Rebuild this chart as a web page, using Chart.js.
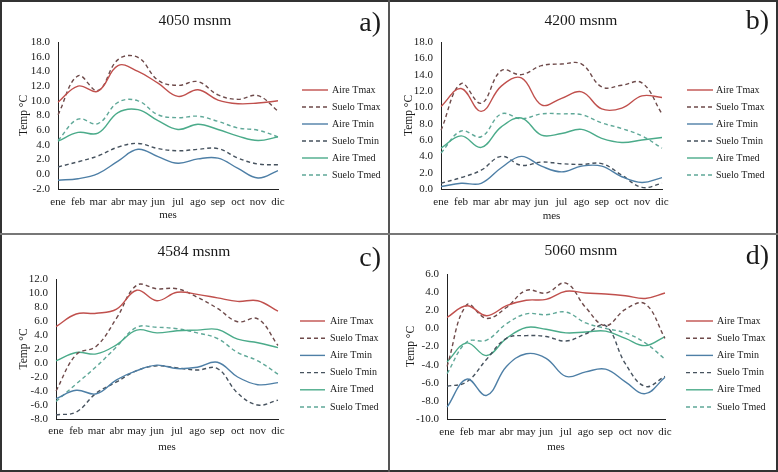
<!DOCTYPE html>
<html>
<head>
<meta charset="utf-8">
<script src="https://cdn.jsdelivr.net/npm/chart.js@4.4.1/dist/chart.umd.min.js"></script>
<style>
  body { margin: 0; background: #fff; }
  #wrap { position: relative; width: 778px; height: 472px; overflow: hidden; background: #fff; }
  canvas { position: absolute; }
  .line { position: absolute; }
</style>
</head>
<body>
<div id="wrap">
  <canvas id="pa" width="388" height="234" style="left:0;top:0"></canvas>
  <canvas id="pb" width="390" height="234" style="left:388px;top:0"></canvas>
  <canvas id="pc" width="388" height="237" style="left:0;top:235px"></canvas>
  <canvas id="pd" width="390" height="237" style="left:388px;top:235px"></canvas>
  <div class="line" style="left:0;top:0;width:778px;height:472px;box-sizing:border-box;border:2px solid #333"></div>
  <div class="line" style="left:388px;top:0;width:2px;height:472px;background:#555"></div>
  <div class="line" style="left:0;top:233px;width:778px;height:2px;background:#777"></div>
</div>
<script>
const months = ["ene", "feb", "mar", "abr", "may", "jun", "jul", "ago", "sep", "oct", "nov", "dic"];
const seriesNames = ["Aire Tmax", "Suelo Tmax", "Aire Tmin", "Suelo Tmin", "Aire Tmed", "Suelo Tmed"];

// a) 4050 msnm
const aAireTmax  = [9.8, 12.0, 11.3, 14.8, 14.0, 12.4, 10.6, 11.5, 10.1, 9.6, 9.7, 10.0];
const aSueloTmax = [8.1, 13.4, 11.4, 15.6, 15.9, 12.8, 12.1, 12.6, 10.8, 10.2, 10.7, 8.6];
const aAireTmin  = [-0.8, -0.6, 0.1, 1.8, 3.4, 2.4, 1.5, 2.1, 2.2, 0.8, -0.5, 0.5];
const aSueloTmin = [1.0, 1.7, 2.5, 3.7, 4.2, 3.5, 3.2, 3.4, 3.5, 2.2, 1.4, 1.3];
const aAireTmed  = [4.5, 5.7, 5.6, 8.4, 8.8, 7.3, 6.1, 6.8, 6.1, 5.2, 4.6, 5.1];
const aSueloTmed = [4.6, 7.5, 6.9, 9.8, 10.0, 8.1, 7.7, 7.9, 7.2, 6.3, 6.0, 5.1];

// b) 4200 msnm
const bAireTmax  = [10.1, 12.3, 9.5, 12.6, 13.6, 10.3, 11.1, 11.9, 9.8, 9.9, 11.4, 11.2];
const bSueloTmax = [7.2, 12.9, 10.5, 14.5, 14.0, 15.1, 15.3, 15.3, 12.5, 12.7, 13.0, 9.2];
const bAireTmin  = [0.3, 0.7, 0.7, 2.6, 4.0, 2.8, 2.1, 2.8, 2.8, 1.5, 0.8, 1.4];
const bSueloTmin = [0.7, 1.4, 2.3, 4.0, 2.9, 3.3, 3.1, 3.0, 3.1, 1.7, 0.2, 0.7];
const bAireTmed  = [5.0, 6.5, 5.1, 7.6, 8.7, 6.6, 6.8, 7.3, 6.2, 5.7, 6.0, 6.3];
const bSueloTmed = [4.4, 7.1, 6.4, 9.2, 8.6, 9.2, 9.2, 9.1, 8.1, 7.4, 6.5, 5.0];

// c) 4584 msnm
const cAireTmax  = [5.2, 7.0, 7.1, 7.7, 10.4, 8.9, 10.1, 9.8, 9.3, 8.8, 8.9, 7.4];
const cSueloTmax = [-4.0, 1.2, 2.4, 6.4, 11.1, 10.6, 10.6, 9.4, 7.8, 5.9, 6.3, 2.5];
const cAireTmin  = [-5.1, -3.9, -4.4, -2.4, -1.1, -0.3, -0.8, -0.6, 0.1, -2.0, -3.1, -2.8];
const cSueloTmin = [-7.4, -7.0, -4.3, -2.7, -1.1, -0.4, -0.7, -1.0, -0.8, -4.3, -6.0, -5.3];
const cAireTmed  = [0.3, 1.5, 1.3, 2.6, 4.7, 4.3, 4.6, 4.7, 4.8, 3.4, 2.9, 2.2];
const cSueloTmed = [-5.5, -3.0, -0.5, 2.3, 5.1, 5.1, 4.9, 4.3, 3.5, 1.5, 0.3, -1.6];

// d) 5060 msnm
const dAireTmax  = [1.2, 2.5, 1.4, 2.5, 3.1, 3.2, 4.1, 3.9, 3.8, 3.6, 3.3, 3.9];
const dSueloTmax = [-4.2, 2.6, 1.1, 2.3, 4.2, 3.9, 5.0, 2.3, 0.3, 2.1, 2.7, -1.1];
const dAireTmin  = [-8.7, -5.6, -7.4, -4.2, -2.8, -3.3, -5.3, -4.8, -4.5, -5.9, -7.2, -5.4];
const dSueloTmin = [-6.4, -5.9, -3.4, -1.1, -0.8, -0.9, -1.4, -0.6, 0.3, -3.9, -6.4, -5.3];
const dAireTmed  = [-3.7, -1.6, -3.0, -1.1, 0.1, -0.1, -0.5, -0.4, -0.3, -1.1, -1.9, -0.9];
const dSueloTmed = [-5.0, -1.5, -1.3, 0.5, 1.6, 1.5, 1.8, 0.6, 0.0, -0.5, -1.6, -3.4];

const colors = ["#c0504d", "#6e4a4a", "#4e7fa6", "#46525e", "#4bab8a", "#5fa898"];
const dashed = [false, true, false, true, false, true];

Chart.defaults.font.family = '"Liberation Serif", "Times New Roman", serif';
Chart.defaults.color = "#1a1a1a";

// titles, panel letter and legend drawn on top of each panel
const panelText = {
  id: "panelText",
  afterDraw(chart, args, o) {
    const ctx = chart.ctx;
    ctx.save();
    ctx.fillStyle = "#1a1a1a";
    ctx.textAlign = "center";
    ctx.textBaseline = "middle";
    ctx.font = '15.5px "Liberation Serif"';
    ctx.fillText(o.title, o.titleX, o.titleY);
    ctx.textAlign = "right";
    ctx.textBaseline = "alphabetic";
    ctx.font = '28px "Liberation Serif"';
    ctx.fillText(o.letter, o.letterX, o.letterY);
    ctx.font = '10px "Liberation Serif"';
    ctx.textAlign = "left";
    ctx.textBaseline = "middle";
    chart.data.datasets.forEach((ds, i) => {
      const y = o.legY + i * o.legStep;
      ctx.strokeStyle = ds.borderColor;
      ctx.lineWidth = ds.borderWidth;
      ctx.setLineDash(ds.borderDash);
      ctx.beginPath();
      ctx.moveTo(o.legX0, y);
      ctx.lineTo(o.legX1, y);
      ctx.stroke();
      ctx.setLineDash([]);
      ctx.fillText(ds.label, o.legText, y);
    });
    ctx.restore();
  }
};

function makePanel(p) {
  new Chart(document.getElementById(p.id), {
    type: "line",
    data: {
      labels: months,
      datasets: p.series.map((vals, i) => ({
        label: seriesNames[i],
        data: vals,
        borderColor: colors[i],
        borderDash: dashed[i] ? [4, 3] : [],
        borderWidth: 1.4,
        pointRadius: 0,
        tension: 0.4,
        fill: false,
      })),
    },
    options: {
      responsive: false,
      animation: false,
      layout: { padding: { left: 0, right: p.pr, top: p.pt, bottom: 0 } },
      scales: {
        x: {
          offset: false,
          grid: { display: true, drawOnChartArea: false, drawTicks: false },
          border: { display: true, color: "#222", width: 1 },
          ticks: { autoSkip: false, maxRotation: 0, padding: p.xPad, font: { size: 11 } },
          title: { display: true, text: "mes", font: { size: 11 }, padding: { top: 0, bottom: p.xTitlePad } },
          afterFit: (s) => { s.height = p.xh; },
        },
        y: {
          min: p.min,
          max: p.max,
          grid: { display: true, drawOnChartArea: false, drawTicks: false },
          border: { display: true, color: "#222", width: 1 },
          ticks: { autoSkip: false, stepSize: 2, padding: 8, font: { size: 11 }, callback: (v) => v.toFixed(1) },
          title: { display: true, text: "Temp °C", font: { size: 11.5 }, padding: { top: p.yTitlePad, bottom: 0 } },
          afterFit: (s) => { s.width = p.yw; },
        },
      },
      plugins: {
        legend: { display: false },
        tooltip: { enabled: false },
        panelText: p.text,
      },
    },
    plugins: [panelText],
  });
}

makePanel({
  id: "pa", min: -2, max: 18, yw: 58, pr: 110, pt: 42, xh: 45, xPad: 7, xTitlePad: 12, yTitlePad: 17,
  series: [aAireTmax, aSueloTmax, aAireTmin, aSueloTmin, aAireTmed, aSueloTmed],
  text: { title: "4050 msnm", titleX: 195, titleY: 21, letter: "a)", letterX: 381, letterY: 31,
          legX0: 302, legX1: 328, legText: 332, legY: 90, legStep: 17 },
});
makePanel({
  id: "pb", min: 0, max: 18, yw: 53, pr: 116, pt: 42, xh: 45, xPad: 7, xTitlePad: 11, yTitlePad: 14,
  series: [bAireTmax, bSueloTmax, bAireTmin, bSueloTmin, bAireTmed, bSueloTmed],
  text: { title: "4200 msnm", titleX: 193, titleY: 21, letter: "b)", letterX: 381, letterY: 29,
          legX0: 299, legX1: 325, legText: 328, legY: 90, legStep: 17 },
});
makePanel({
  id: "pc", min: -8, max: 12, yw: 56, pr: 110, pt: 44, xh: 53, xPad: 6, xTitlePad: 18, yTitlePad: 17,
  series: [cAireTmax, cSueloTmax, cAireTmin, cSueloTmin, cAireTmed, cSueloTmed],
  text: { title: "4584 msnm", titleX: 194, titleY: 17, letter: "c)", letterX: 381, letterY: 31,
          legX0: 300, legX1: 325, legText: 330, legY: 86, legStep: 17.2 },
});
makePanel({
  id: "pd", min: -10, max: 6, yw: 59, pr: 113, pt: 39, xh: 53, xPad: 7, xTitlePad: 18, yTitlePad: 16,
  series: [dAireTmax, dSueloTmax, dAireTmin, dSueloTmin, dAireTmed, dSueloTmed],
  text: { title: "5060 msnm", titleX: 193, titleY: 16, letter: "d)", letterX: 381, letterY: 29,
          legX0: 298, legX1: 325, legText: 329, legY: 86, legStep: 17.2 },
});
</script>
</body>
</html>
